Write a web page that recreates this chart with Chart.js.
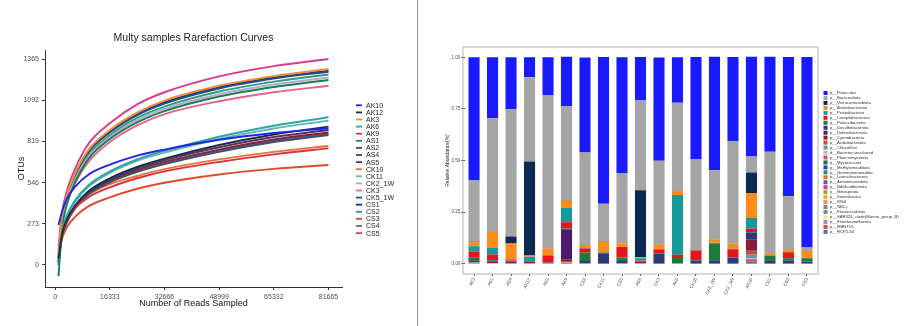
<!DOCTYPE html>
<html><head><meta charset="utf-8">
<script src="https://cdn.jsdelivr.net/npm/chart.js@4.4.0/dist/chart.umd.min.js"></script>
<style>
html,body{margin:0;padding:0;background:#fff;}
#wrap{position:relative;width:914px;height:326px;overflow:hidden;background:#fff;}
#c1{position:absolute;left:0;top:0;}
#c2{position:absolute;left:420px;top:0;}
</style></head><body>
<div id="wrap"><canvas id="c1" width="418" height="326"></canvas><canvas id="c2" width="494" height="326"></canvas></div>
<script>
// ---------- Left: rarefaction curves ----------
const rareX = [1000, 2000, 3500, 6000, 10000, 16333, 24500, 32666, 48999, 65332, 81665];
const xTickVals = [0, 16333, 32666, 48999, 65332, 81665];
const yTickVals = [0, 273, 546, 819, 1092, 1365];
const sampleNames = ['AK10','AK12','AK3','AK6','AK9','AS1','AS2','AS4','AS5','CK10','CK11','CK2_1W','CK3','CK5_1W','CS1','CS2','CS3','CS4','CS5'];
const otuAK10   = [265, 350, 440, 520, 600, 665, 725, 765, 830, 875, 905];
const otuAK12   = [40, 200, 300, 395, 490, 575, 650, 705, 795, 865, 917];
const otuAK3    = [60, 320, 465, 610, 765, 895, 1010, 1090, 1188, 1252, 1299];
const otuAK6    = [30, 220, 330, 430, 530, 620, 700, 757, 850, 923, 979];
const otuAK9    = [100, 215, 300, 378, 450, 515, 575, 620, 683, 733, 773];
const otuAS1    = [-73, 230, 400, 550, 705, 835, 945, 1020, 1117, 1180, 1226];
const otuAS2    = [50, 200, 295, 385, 470, 548, 617, 668, 750, 815, 862];
const otuAS4    = [20, 190, 290, 385, 480, 565, 640, 695, 780, 848, 895];
const otuAS5    = [70, 210, 300, 390, 478, 558, 630, 683, 765, 832, 878];
const otuCK10   = [80, 210, 300, 385, 465, 535, 590, 635, 700, 750, 789];
const otuCK11   = [10, 210, 320, 420, 520, 610, 690, 745, 835, 905, 957];
const otuCK2_1W = [50, 290, 430, 570, 720, 848, 960, 1035, 1132, 1196, 1243];
const otuCK3    = [90, 290, 420, 545, 685, 815, 925, 1000, 1085, 1145, 1188];
const otuCK5_1W = [20, 300, 450, 595, 750, 878, 993, 1070, 1170, 1235, 1281];
const otuCS1    = [40, 310, 455, 600, 755, 885, 1000, 1078, 1178, 1242, 1288];
const otuCS2    = [0, 280, 430, 575, 730, 860, 975, 1050, 1150, 1215, 1263];
const otuCS3    = [60, 170, 250, 320, 390, 448, 505, 545, 600, 637, 663];
const otuCS4    = [0, 180, 280, 375, 465, 548, 620, 673, 757, 823, 870];
const otuCS5    = [120, 340, 490, 640, 805, 940, 1065, 1145, 1250, 1318, 1365];
const otuSeries = [otuAK10, otuAK12, otuAK3, otuAK6, otuAK9, otuAS1, otuAS2, otuAS4, otuAS5, otuCK10, otuCK11, otuCK2_1W, otuCK3, otuCK5_1W, otuCS1, otuCS2, otuCS3, otuCS4, otuCS5];
const curveColors = ['#2323ee','#1c2b4a','#f28e2b','#2aa7a7','#d8343f','#1f7a4f','#3c4f6b','#4b3a5e','#8b1e3f','#e8743b','#63b5b5','#b5a9c9','#e0668e','#2b4c8c','#1b2a90','#2a9d7f','#e04a2a','#5d6b8a','#d63a8f'];

// ---------- Right: relative abundance ----------
const barSamples = ['AK3','AS1','AS4','AK12','AS2','AK9','CS4','CK11','CS5','AS5','CK3','AK6','CK10','CK5_1W','CK2_1W','AK10','CS1','CS2','CS3'];
const phylumNames = ['p__Firmicutes','p__Bacteroidota','p__Verrucomicrobiota','p__Actinobacteriota','p__Proteobacteria','p__Campilobacterota','p__Patescibacteria','p__Desulfobacterota','p__Deferribacterota','p__Cyanobacteria','p__Acidobacteriota','p__Chloroflexi','d__Bacteria;uncultured','p__Planctomycetota','p__Myxococcota','p__Methylomirabilota','p__Gemmatimonadota','p__Latescibacterota','p__Armatimonadota','p__Bdellovibrionota','p__Nitrospirota','p__Sumerlaeota','p__WS4','p__NB1-j','p__Elusimicrobiota','p__SAR324_clade(Marine_group_B)','p__Entotheonellaeota','p__MBNT15','p__RCP2-54'];
const phylumColors = ['#1a1aff','#a5a5a5','#0b2a52','#ff8c1a','#17999b','#e8141c','#1d7a3a','#2b3a7c','#4b1a6b','#8c1a3c','#c0503a','#5e9ea3','#bdbdbd','#e0457d','#15686b','#2244c4','#2a8a5c','#e3692e','#5b5ba3','#c040a4','#8cac2a','#e6ad2a','#e39a4a','#8a7a9c','#6a8cac','#ebf28a','#9c8cc4','#e34444','#3a7cac'];
const firmicutes        = [.597,.295,.252,.097,.182,.239,.460,.711,.561,.210,.500,.220,.497,.550,.408,.484,.460,.674,.924];
const bacteroidota      = [.297,.551,.617,.408,.743,.455,.448,.180,.340,.435,.405,.425,.432,.334,.497,.077,.493,.258,.016];
const verrucomicrobiota = [.003,.001,.034,.455,.001,.002,.001,.003,.001,.325,.001,.001,.001,.001,.001,.100,.001,.001,.001];
const actinobacteriota  = [.019,.077,.076,.006,.032,.037,.014,.052,.016,.005,.022,.021,.006,.016,.024,.121,.008,.011,.032];
const proteobacteria    = [.026,.032,.006,.021,.002,.069,.002,.002,.002,.010,.002,.290,.002,.002,.002,.052,.002,.002,.002];
const campilobacterota  = [.027,.026,.003,.003,.032,.030,.020,.002,.051,.004,.021,.016,.047,.002,.039,.016,.002,.029,.001];
const patescibacteria   = [.015,.003,.001,.001,.001,.002,.041,.001,.016,.002,.001,.024,.001,.081,.001,.002,.020,.012,.016];
const desulfobacterota  = [.003,.002,.002,.001,.002,.002,.011,.049,.012,.002,.046,.001,.015,.016,.029,.035,.016,.013,.009];
const deferribacterota  = [.001,.001,0,0,0,.145,0,0,0,0,0,0,0,0,0,0,0,0,0];
const cyanobacteria     = [.005,.009,.007,.006,.003,.008,.001,.001,.001,.006,.001,.001,.001,.001,.001,.053,.001,.001,.001];
const acidobacteriota   = [.002,.001,.001,.001,.001,.006,0,0,0,.001,0,0,0,0,0,.020,0,0,0];
const chloroflexi       = [.002,.001,.001,.001,.001,.002,.001,0,0,.001,0,.001,0,0,0,.016,0,0,0];
const bacteriaUncult    = [.001,.001,0,0,0,.001,0,0,0,0,0,0,0,0,0,.005,0,0,0];
const planctomycetota   = [.001,0,0,0,0,.001,0,0,0,0,0,0,0,0,0,.013,0,0,0];
const myxococcota       = [.001,0,0,0,0,.001,0,0,0,0,0,0,0,0,0,.004,0,0,0];
const methylomirabilota = [0,0,0,0,0,.001,0,0,0,0,0,0,0,0,0,.001,0,0,0];
const gemmatimonadota   = [0,0,.0005,0,0,0,0,0,0,0,0,0,0,0,0,.001,0,0,0];
const latescibacterota  = [0,0,0,0,0,0,0,0,0,0,0,0,0,0,0,.0005,0,0,0];
const armatimonadota    = [0,0,0,0,0,.0005,0,0,0,0,0,0,0,0,0,0,0,0,0];
const bdellovibrionota  = [.0005,0,0,0,0,0,0,0,0,0,0,0,0,0,0,.0005,0,0,0];
const nitrospirota      = [0,0,0,0,0,0,0,0,0,0,0,0,0,0,0,.0005,0,0,0];
const sumerlaeota       = [0,0,0,0,0,0,0,0,0,0,0,0,0,0,0,.0003,0,0,0];
const ws4               = [0,0,0,0,0,.0005,0,0,0,0,0,0,0,0,0,0,0,0,0];
const nb1j              = [0,0,0,0,0,0,0,0,0,0,0,0,0,0,0,.0003,0,0,0];
const elusimicrobiota   = [0,0,0,0,0,0,0,0,.0005,0,0,0,0,0,0,.0003,0,0,0];
const sar324            = [0,0,0,0,0,0,0,0,0,0,0,0,0,0,0,.0002,0,0,0];
const entotheonellaeota = [0,0,0,0,0,0,0,0,0,0,0,0,0,0,0,.0002,0,0,0];
const mbnt15            = [0,0,0,0,0,.0003,0,0,0,0,0,0,0,0,0,0,0,0,0];
const rcp254            = [0,0,0,0,0,0,0,0,0,0,0,0,0,0,0,.0002,0,0,0];
const phylumValues = [firmicutes, bacteroidota, verrucomicrobiota, actinobacteriota, proteobacteria, campilobacterota, patescibacteria, desulfobacterota, deferribacterota, cyanobacteria, acidobacteriota, chloroflexi, bacteriaUncult, planctomycetota, myxococcota, methylomirabilota, gemmatimonadota, latescibacterota, armatimonadota, bdellovibrionota, nitrospirota, sumerlaeota, ws4, nb1j, elusimicrobiota, sar324, entotheonellaeota, mbnt15, rcp254];
const abundTickVals = [0, 0.25, 0.5, 0.75, 1];

const FONT = "'Liberation Sans', Arial, Helvetica, sans-serif";

// ---------- left chart ----------
const leftDecor = {
  id: 'leftDecor',
  afterDraw(chart) {
    const ctx = chart.ctx, ca = chart.chartArea;
    ctx.save();
    ctx.fillStyle = '#222';
    ctx.font = '10.5px ' + FONT;
    ctx.textAlign = 'center'; ctx.textBaseline = 'middle';
    ctx.fillText('Multy samples Rarefaction Curves', (ca.left + ca.right) / 2, 38);
    // legend
    ctx.font = '7px ' + FONT;
    ctx.textAlign = 'left';
    chart.data.datasets.forEach((ds, i) => {
      const y = 105.3 + i * 7.1;
      ctx.strokeStyle = ds.borderColor; ctx.lineWidth = 1.8;
      ctx.beginPath(); ctx.moveTo(356, y); ctx.lineTo(362, y); ctx.stroke();
      ctx.fillStyle = '#222';
      ctx.fillText(ds.label, 366, y + 0.5);
    });
    // panel separator
    ctx.strokeStyle = '#9a9a9a'; ctx.lineWidth = 1;
    ctx.beginPath(); ctx.moveTo(417.5, 0); ctx.lineTo(417.5, 326); ctx.stroke();
    ctx.restore();
  }
};

new Chart(document.getElementById('c1'), {
  type: 'line',
  data: {
    datasets: sampleNames.map((n, i) => ({
      label: n,
      data: rareX.map((x, j) => ({ x: x, y: otuSeries[i][j] })),
      borderColor: curveColors[i],
      borderWidth: 1.9,
      pointRadius: 0,
      cubicInterpolationMode: 'monotone',
      fill: false
    }))
  },
  options: {
    responsive: false, animation: false,
    layout: { padding: { left: 0, right: 76, top: 50, bottom: 0 } },
    plugins: { legend: { display: false }, tooltip: { enabled: false }, title: { display: false } },
    scales: {
      x: {
        type: 'linear', min: -3043, max: 85700,
        afterBuildTicks: s => { s.ticks = xTickVals.map(v => ({ value: v })); },
        afterFit: s => { s.height = 39; },
        grid: { drawOnChartArea: false, drawTicks: true, tickLength: 3, color: '#333' },
        border: { color: '#333', width: 1 },
        ticks: { font: { family: FONT, size: 7 }, color: '#4d4d4d', padding: 3, maxRotation: 0, autoSkip: false, callback: v => String(v) },
        title: { display: true, text: 'Number of Reads Sampled', font: { family: FONT, size: 9 }, color: '#111', padding: { top: 0, bottom: 17 } }
      },
      y: {
        type: 'linear', min: -146, max: 1425,
        afterBuildTicks: s => { s.ticks = yTickVals.map(v => ({ value: v })); },
        afterFit: s => { s.width = 45; },
        grid: { drawOnChartArea: false, drawTicks: true, tickLength: 3, color: '#333' },
        border: { color: '#333', width: 1 },
        ticks: { font: { family: FONT, size: 7 }, color: '#4d4d4d', padding: 3, autoSkip: false, callback: v => String(v) },
        title: { display: true, text: 'OTUs', font: { family: FONT, size: 9 }, color: '#111', padding: { top: 16, bottom: 0 } }
      }
    }
  },
  plugins: [leftDecor]
});

// ---------- right chart ----------
const rightDecor = {
  id: 'rightDecor',
  afterDraw(chart) {
    const ctx = chart.ctx, ca = chart.chartArea;
    const cw = (ca.right - ca.left) / barSamples.length;
    ctx.save();
    ctx.strokeStyle = '#a0a0a0'; ctx.lineWidth = 0.8;
    ctx.strokeRect(ca.left - 0.1 * cw, ca.top, (ca.right - ca.left) + 0.2 * cw, ca.bottom - ca.top);
    // legend
    ctx.font = '4.2px ' + FONT;
    ctx.textAlign = 'left'; ctx.textBaseline = 'middle';
    phylumNames.forEach((n, k) => {
      const y = 93 + k * 4.96;
      ctx.fillStyle = phylumColors[k];
      ctx.fillRect(403.5, y - 2, 4, 4);
      ctx.fillStyle = '#333';
      ctx.fillText(n, 410, y);
    });
    ctx.restore();
  }
};

new Chart(document.getElementById('c2'), {
  type: 'bar',
  data: {
    labels: barSamples,
    datasets: phylumNames.map((n, k) => ({
      label: n, data: phylumValues[k], backgroundColor: phylumColors[k],
      borderWidth: 0, barPercentage: 0.6, categoryPercentage: 1
    })).reverse()
  },
  options: {
    responsive: false, animation: false,
    layout: { padding: { left: 0, right: 97.8, top: 47, bottom: 0 } },
    plugins: { legend: { display: false }, tooltip: { enabled: false } },
    scales: {
      x: {
        stacked: true, offset: true,
        afterFit: s => { s.height = 52; },
        grid: { drawOnChartArea: false, drawTicks: true, tickLength: 2, color: '#555', offset: false },
        border: { display: false },
        ticks: { font: { family: FONT, size: 4.5 }, color: '#4d4d4d', padding: 1, minRotation: 65, maxRotation: 65, autoSkip: false }
      },
      y: {
        stacked: true, min: -0.05, max: 1.05,
        afterBuildTicks: s => { s.ticks = abundTickVals.map(v => ({ value: v })); },
        afterFit: s => { s.width = 44.8; },
        grid: { drawOnChartArea: false, drawTicks: true, tickLength: 3.5, color: '#555' },
        border: { display: false },
        ticks: { font: { family: FONT, size: 4.5 }, color: '#4d4d4d', padding: 1, autoSkip: false, callback: v => v.toFixed(2) },
        title: { display: true, text: 'Relative Abundance(%)', font: { family: FONT, size: 5 }, color: '#222', padding: { top: 25, bottom: 0 } }
      }
    }
  },
  plugins: [rightDecor]
});
</script>
</body></html>
